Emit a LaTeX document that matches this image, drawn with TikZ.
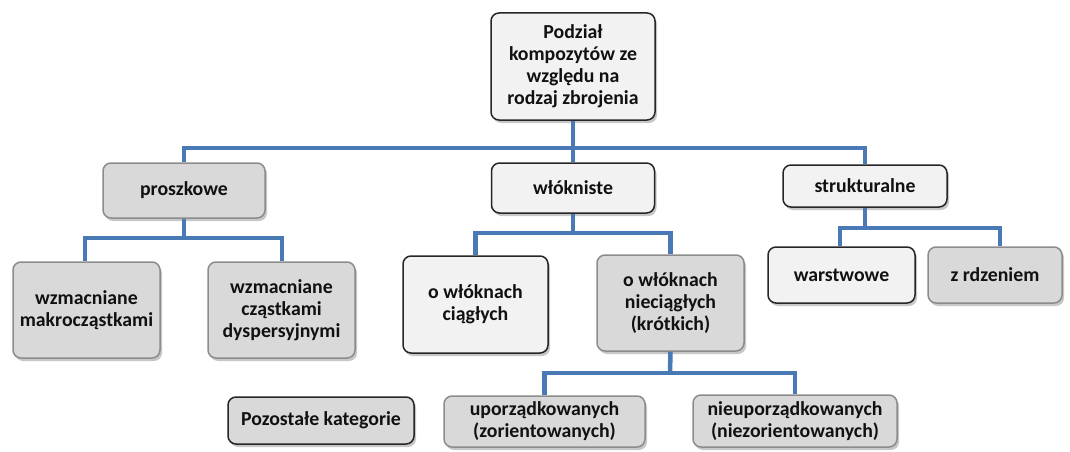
\documentclass[tikz,border=0pt]{standalone}
\usepackage{fontspec}
\setmainfont{Carlito}
\usetikzlibrary{shadows}
\definecolor{lightfill}{HTML}{F2F2F2}
\definecolor{darkfill}{HTML}{D9D9D9}
\definecolor{darkborder}{HTML}{262626}
\definecolor{grayborder}{HTML}{8C8C8C}
\definecolor{connblue}{HTML}{4A7AB5}
\definecolor{txt}{HTML}{111111}
\tikzset{
  basebox/.style={rounded corners=8pt, line width=1.5pt, align=center, inner sep=2pt,
    font=\fontsize{19.8}{22}\selectfont\bfseries, text=txt,
    drop shadow={shadow xshift=2pt, shadow yshift=-3pt, opacity=0.22, fill=black}},
  lightbox/.style={basebox, fill=lightfill, draw=darkborder},
  darkbox/.style={basebox, fill=darkfill, draw=grayborder},
  otherbox/.style={basebox, fill=darkfill, draw=darkborder},
  conn/.style={draw=connblue, line width=4.5pt}
}
\begin{document}
\begin{tikzpicture}[x=1pt,y=-1pt]
\useasboundingbox[fill=white] (0,0) rectangle (1070,452);
% level 0
\node[lightbox, minimum width=164pt, minimum height=107pt] (top) at (573,66.5) {Podział\\kompozytów ze\\względu na\\rodzaj zbrojenia};
% level 1
\node[darkbox, minimum width=162pt, minimum height=55pt] (prosz) at (184,190.5) {proszkowe};
\node[lightbox, minimum width=163pt, minimum height=50pt] (wlok) at (573,188) {włókniste};
\node[lightbox, minimum width=164pt, minimum height=42pt] (strukt) at (865,186) {strukturalne};
% level 2
\node[darkbox, minimum width=147pt, minimum height=96pt] (makro) at (86.5,310) {wzmacniane\\makrocząstkami};
\node[darkbox, minimum width=147pt, minimum height=96pt] (dysp) at (281.5,310) {wzmacniane\\cząstkami\\dyspersyjnymi};
\node[lightbox, minimum width=145pt, minimum height=97pt] (ciagle) at (475.5,304.5) {o włóknach\\ciągłych};
\node[darkbox, minimum width=147pt, minimum height=96pt] (krotkie) at (670.5,303) {o włóknach\\nieciągłych\\(krótkich)};
\node[lightbox, minimum width=147pt, minimum height=56pt] (warst) at (841.5,275) {warstwowe};
\node[darkbox, minimum width=134pt, minimum height=56pt] (rdzen) at (995,275) {z rdzeniem};
% level 3
\node[otherbox, minimum width=186pt, minimum height=47pt] (pozost) at (321,420.5) {Pozostałe kategorie};
\node[darkbox, minimum width=201pt, minimum height=51pt] (upo) at (544.5,421.5) {uporządkowanych\\(zorientowanych)};
\node[darkbox, minimum width=204pt, minimum height=52pt] (nieupo) at (795,421) {nieuporządkowanych\\(niezorientowanych)};
% bus coordinates
\coordinate (b0) at (573,148);
\coordinate (b1) at (184,238);
\coordinate (b2) at (573,233);
\coordinate (b3) at (865,228);
\coordinate (b4) at (670,373);
% connectors
\draw[conn] (top.south) -- (b0);
\draw[conn] (prosz.north) |- (b0) -| (strukt.north);
\draw[conn] (wlok.north) -- (b0);
\draw[conn] (prosz.south) -- (b1);
\draw[conn] (makro.north -| 85,0) |- (b1) -| (dysp.north -| 282,0);
\draw[conn] (wlok.south) -- (b2);
\draw[conn] (ciagle.north) |- (b2) -| (krotkie.north);
\draw[conn] (strukt.south) -- (b3);
\draw[conn] (warst.north -| 840,0) |- (b3) -| (rdzen.north -| 1000,0);
\draw[conn] (krotkie.south) -- (b4);
\draw[conn] (upo.north) |- (b4) -| (nieupo.north);
\end{tikzpicture}
\end{document}
